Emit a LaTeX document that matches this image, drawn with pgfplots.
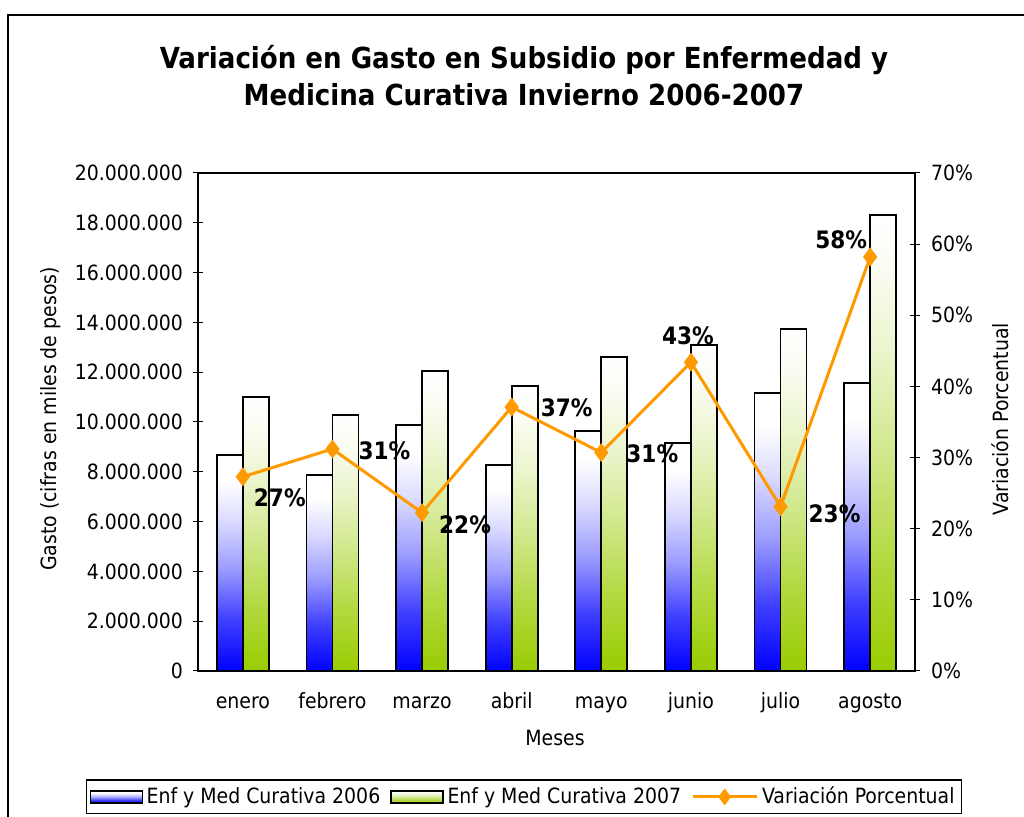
\documentclass[border=0pt]{standalone}
\usepackage{fontspec}
\setmainfont{DejaVu Sans Condensed}
\usepackage{pgfplots}
\usepackage{pgfplotstable}
\pgfplotsset{compat=1.18}
\definecolor{azul}{RGB}{0,0,255}
\definecolor{verde}{RGB}{153,204,0}
\definecolor{naranja}{RGB}{255,153,0}

% degradados verticales (blanco arriba)
\pgfdeclareverticalshading{azulgrad}{100bp}{color(0bp)=(azul); color(25bp)=(azul);
  color(37bp)=(azul!75); color(49bp)=(azul!38); color(60bp)=(azul!14);
  color(69bp)=(white); color(100bp)=(white)}
\pgfdeclareverticalshading{verdegrad}{100bp}{color(0bp)=(verde); color(25bp)=(verde);
  color(37bp)=(verde!75); color(49bp)=(verde!45); color(60bp)=(verde!20);
  color(70bp)=(verde!4); color(75bp)=(white); color(100bp)=(white)}

\pgfplotsset{
  barleg/.style={area legend,
    legend image code/.code={\draw[##1, line width=0.6pt] (0pt,-3pt) rectangle (26pt,3pt);}},
  lineleg/.style={
    legend image code/.code={\draw[##1, mark=none] (0pt,0pt) -- (32pt,0pt);
      \draw[##1] plot coordinates {(16pt,0pt)};}},
  b2006/.style={ybar, bar width=13pt, bar shift=-6.5pt, draw=black, line width=0.9pt, shading=azulgrad},
  b2007/.style={ybar, bar width=13pt, bar shift=6.5pt, draw=black, line width=0.9pt, shading=verdegrad},
}

% gasto en miles de pesos
\pgfplotstableread{
x g2006 g2007
0 8660000 11000000
1 7870000 10280000
2 9880000 12050000
3 8260000 11430000
4 9640000 12610000
5 9170000 13080000
6 11180000 13750000
7 11570000 18310000
}\gasto

% variacion porcentual, con desplazamiento de la etiqueta (pt)
\pgfplotstableread{
x var lab dx dy
0 27.3 27 18.5 -10.5
1 31.2 31 26 -0.75
2 22.25 22 21.5 -6
3 37.1 37 27.5 -0.5
4 30.7 31 25.5 -0.5
5 43.4 43 -1.5 13
6 23.1 23 27 -3.5
7 58.2 58 -14.5 8.5
}\variacion

\begin{document}
\begin{tikzpicture}
\useasboundingbox (0pt,0pt) rectangle (512pt,408.5pt);
\draw[line width=1pt] (4pt,-2pt) -- (4pt,401pt) -- (514pt,401pt);

\pgfplotsset{
  base/.style={
    at={(99pt,73pt)}, anchor=south west,
    scale only axis, width=358.5pt, height=249pt,
    xmin=-0.5, xmax=7.5,
    tick align=center, major tick length=5pt,
    tick style={black, line width=0.5pt},
    axis line style={line width=0.6pt},
    tick label style={font=\fontsize{10.5}{12}\selectfont},
    /pgf/number format/assume math mode=true,
  },
}

\begin{axis}[base,
  ymin=0, ymax=20000000,
  ytick={0,2000000,4000000,6000000,8000000,10000000,12000000,14000000,16000000,18000000,20000000},
  scaled y ticks=false,
  yticklabel style={/pgf/number format/.cd, fixed, precision=0, 1000 sep={.}, /tikz/.cd, xshift=-1.5pt},
  ytick pos=left,
  xtick={0,...,7},
  xticklabels={enero,febrero,marzo,abril,mayo,junio,julio,agosto},
  x tick label style={text height=1.6ex, text depth=0.4ex, yshift=-4pt},
  xtick style={draw=none},
  extra x ticks={-0.5,0.5,1.5,2.5,3.5,4.5,5.5,6.5,7.5},
  extra x tick labels={},
  extra x tick style={major tick length=6pt},
  legend style={at={(0.4547,-0.253)}, anchor=center, legend columns=-1,
    draw=black, line width=0.6pt, font=\fontsize{10.5}{12}\selectfont,
    inner sep=1.5pt,
    /tikz/every even column/.append style={column sep=3pt}},
]
\pgfplotsinvokeforeach{0,...,7}{
  \addplot[b2006, forget plot, restrict expr to domain={\coordindex}{#1:#1}]
    table[x=x, y=g2006] {\gasto};
  \addplot[b2007, forget plot, restrict expr to domain={\coordindex}{#1:#1}]
    table[x=x, y=g2007] {\gasto};
}
\addlegendimage{b2006, barleg}
\addlegendentry{Enf y Med Curativa 2006}
\addlegendimage{b2007, barleg}
\addlegendentry{Enf y Med Curativa 2007}
\addlegendimage{naranja, line width=1.5pt, mark=diamond*, mark size=3pt, lineleg}
\addlegendentry{Variación Porcentual}
\end{axis}

\begin{axis}[base,
  ymin=0, ymax=70,
  ytick={0,10,...,70},
  yticklabel={\pgfmathprintnumber{\tick}\%},
  yticklabel style={xshift=2pt},
  axis y line*=right,
  axis x line=none,
  clip=false,
]
\addplot[naranja, line width=1.5pt, mark=diamond*, mark size=3.5pt,
  mark options={solid},
  point meta=explicit symbolic,
  visualization depends on={\thisrow{dx} \as \dx},
  visualization depends on={\thisrow{dy} \as \dy},
  nodes near coords={\pgfplotspointmeta\%},
  every node near coord/.append style={anchor=center, black,
    font=\fontsize{12}{14}\bfseries, xshift=\dx pt, yshift=\dy pt},
] table[x=x, y=var, meta=lab] {\variacion};
\end{axis}

\node[font=\fontsize{14.5}{18.5}\selectfont\bfseries, align=center] at (262pt,370.5pt)
  {Variación en Gasto en Subsidio por Enfermedad y\\Medicina Curativa Invierno 2006-2007};
\node[rotate=90, font=\fontsize{10.5}{12}\selectfont] at (25.5pt,199pt) {Gasto (cifras en miles de pesos)};
\node[rotate=90, font=\fontsize{10.5}{12}\selectfont] at (500pt,199pt) {Variación Porcentual};
\node[font=\fontsize{10.5}{12}\selectfont] at (277.5pt,39.5pt) {Meses};
\end{tikzpicture}
\end{document}
